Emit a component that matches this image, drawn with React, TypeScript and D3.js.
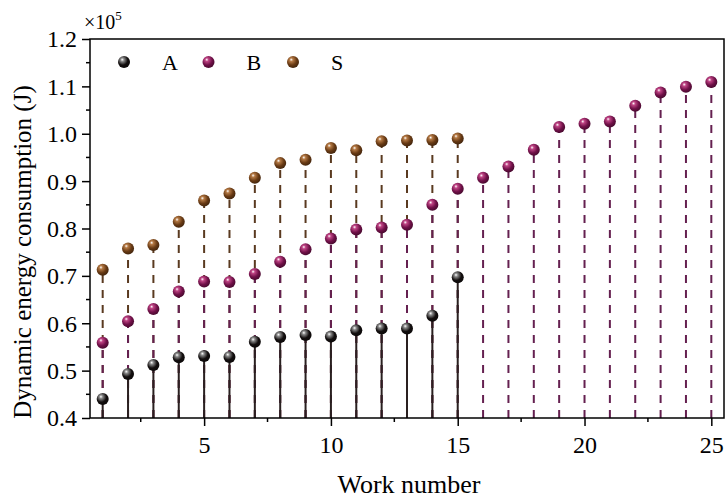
import React, { useRef, useEffect } from 'react';
import * as d3 from 'd3';

const workNumbers = d3.range(1, 26);
const seriesA = [0.440, 0.493, 0.512, 0.528, 0.531, 0.529, 0.561, 0.571, 0.575, 0.572, 0.585, 0.589, 0.589, 0.616, 0.697];
const seriesB = [0.559, 0.604, 0.630, 0.667, 0.688, 0.687, 0.704, 0.730, 0.756, 0.779, 0.798, 0.802, 0.808, 0.850, 0.884,
  0.907, 0.931, 0.966, 1.014, 1.021, 1.026, 1.059, 1.087, 1.099, 1.109];
const seriesS = [0.713, 0.758, 0.765, 0.814, 0.859, 0.874, 0.907, 0.938, 0.945, 0.970, 0.965, 0.984, 0.986, 0.987, 0.990];
const yTicks = [0.4, 0.5, 0.6, 0.7, 0.8, 0.9, 1.0, 1.1, 1.2];
const xTicks = [5, 10, 15, 20, 25];

const series = [
  { name: 'S', values: seriesS, color: '#683a14', light: '#b57a45', stem: '#5a3a20', dash: '8,7' },
  { name: 'B', values: seriesB, color: '#701048', light: '#c04585', stem: '#652050', dash: '8,7' },
  { name: 'A', values: seriesA, color: '#120e0e', light: '#8a8a8a', stem: '#2a2020', dash: null },
];
const legendOrder = ['A', 'B', 'S'];

const width = 725;
const height = 499;
const margin = { top: 39, right: 1, bottom: 81, left: 90 };
const font = '"Liberation Serif", "Times New Roman", serif';

const App = () => {
  const svgRef = useRef(null);

  useEffect(() => {
    const svg = d3.select(svgRef.current);
    svg.selectAll('*').remove();

    const x = d3.scaleLinear().domain([0.5, 25.5]).range([margin.left, width - margin.right]);
    const y = d3.scaleLinear().domain([0.4, 1.2]).range([height - margin.bottom, margin.top]);

    const defs = svg.append('defs');
    series.forEach(s => {
      const grad = defs.append('radialGradient')
        .attr('id', `ball-${s.name}`)
        .attr('cx', '40%').attr('cy', '35%').attr('r', '65%')
        .attr('fx', '35%').attr('fy', '30%');
      grad.append('stop').attr('offset', '0%').attr('stop-color', '#ffffff');
      grad.append('stop').attr('offset', '22%').attr('stop-color', s.light);
      grad.append('stop').attr('offset', '65%').attr('stop-color', s.color);
      grad.append('stop').attr('offset', '100%').attr('stop-color', d3.color(s.color).darker(1.2).toString());
    });

    // stems
    series.forEach(s => {
      svg.append('g').selectAll('line')
        .data(s.values)
        .enter().append('line')
        .attr('x1', (d, i) => x(workNumbers[i]))
        .attr('x2', (d, i) => x(workNumbers[i]))
        .attr('y1', y(0.4))
        .attr('y2', d => y(d))
        .attr('stroke', s.stem)
        .attr('stroke-width', 2)
        .attr('stroke-dasharray', s.dash);
    });

    // balls
    series.forEach(s => {
      const g = svg.append('g');
      g.selectAll('circle')
        .data(s.values)
        .enter().append('circle')
        .attr('cx', (d, i) => x(workNumbers[i]))
        .attr('cy', d => y(d))
        .attr('r', 6)
        .attr('fill', `url(#ball-${s.name})`);
    });

    // axes
    const axisG = svg.append('g').attr('font-family', font);
    const yAxis = d3.axisLeft(y).tickValues(yTicks).tickSize(8).tickFormat(d3.format('.1f'));
    const gy = axisG.append('g').attr('transform', `translate(${margin.left},0)`).call(yAxis);
    gy.select('.domain').remove();
    gy.selectAll('.tick line').attr('stroke', '#000').attr('stroke-width', 1.5);
    gy.selectAll('.tick text').attr('font-size', 24).attr('font-family', font).attr('fill', '#000').attr('x', -13).attr('dy', '0.33em');

    const yMinor = d3.range(0.45, 1.2, 0.1);
    axisG.append('g').selectAll('line').data(yMinor).enter().append('line')
      .attr('x1', margin.left - 4).attr('x2', margin.left)
      .attr('y1', d => y(d)).attr('y2', d => y(d))
      .attr('stroke', '#000').attr('stroke-width', 1.5);

    const xAxis = d3.axisBottom(x).tickValues(xTicks).tickSize(8).tickFormat(d3.format('d'));
    const gx = axisG.append('g').attr('transform', `translate(0,${height - margin.bottom})`).call(xAxis);
    gx.select('.domain').remove();
    gx.selectAll('.tick line').attr('stroke', '#000').attr('stroke-width', 1.5);
    gx.selectAll('.tick text').attr('font-size', 24).attr('font-family', font).attr('fill', '#000').attr('y', 18).attr('dy', '0.71em');

    const xMinor = d3.range(2.5, 25, 5);
    axisG.append('g').selectAll('line').data(xMinor).enter().append('line')
      .attr('x1', d => x(d)).attr('x2', d => x(d))
      .attr('y1', height - margin.bottom).attr('y2', height - margin.bottom + 4)
      .attr('stroke', '#000').attr('stroke-width', 1.5);

    // frame
    svg.append('rect')
      .attr('x', margin.left).attr('y', margin.top)
      .attr('width', width - margin.left - margin.right)
      .attr('height', height - margin.top - margin.bottom)
      .attr('fill', 'none').attr('stroke', '#000').attr('stroke-width', 1.5);

    // multiplier
    const mult = svg.append('text')
      .attr('x', 84).attr('y', 29)
      .attr('font-family', font).attr('font-size', 20);
    mult.append('tspan').text('×10');
    mult.append('tspan').attr('dy', -9).attr('font-size', 13).text('5');

    // axis titles
    svg.append('text')
      .attr('x', 409).attr('y', 493)
      .attr('text-anchor', 'middle')
      .attr('font-family', font).attr('font-size', 26)
      .text('Work number');

    svg.append('text')
      .attr('transform', `translate(31,252) rotate(-90)`)
      .attr('text-anchor', 'middle')
      .attr('font-family', font).attr('font-size', 25)
      .text('Dynamic energy consumption (J)');

    // legend
    const legend = svg.append('g').attr('transform', 'translate(124,62)');
    legendOrder.forEach((name, i) => {
      const s = series.find(d => d.name === name);
      const item = legend.append('g').attr('transform', `translate(${i * 84.5},0)`);
      item.append('circle').attr('r', 6).attr('fill', `url(#ball-${s.name})`);
      item.append('text')
        .attr('x', 38).attr('dy', '0.35em')
        .attr('font-family', font).attr('font-size', 22)
        .text(name);
    });
  }, []);

  return (
    <svg
      ref={svgRef}
      width={width}
      height={height}
      style={{ position: 'absolute', left: 0, top: 0, background: '#fff' }}
    />
  );
};

export default App;
